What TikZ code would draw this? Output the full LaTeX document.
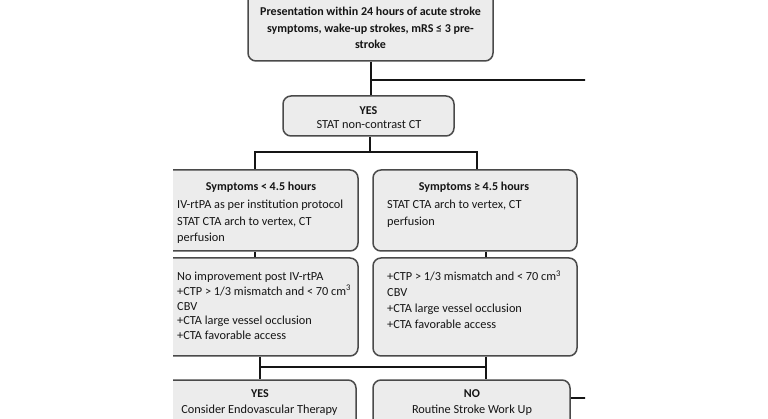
\documentclass[tikz,border=0pt]{standalone}
\usepackage{fontspec}
\setmainfont{Carlito}
\usetikzlibrary{calc}
\definecolor{boxfill}{HTML}{ECECEC}
\definecolor{boxline}{HTML}{4A4A4A}
\definecolor{wirecol}{HTML}{151515}
\definecolor{txtcol}{HTML}{151515}
\begin{document}
\begin{tikzpicture}[x=1pt,y=-1pt,
  font=\fontsize{12.3}{15}\selectfont,
  box/.style={draw=boxline, fill=boxfill, rounded corners=8pt, line width=1.5pt, inner sep=0pt},
  txt/.style={inner sep=0pt, text=txtcol},
  ttl/.style={txt, font=\fontsize{12}{15}\selectfont\bfseries, anchor=base},
  lft/.style={txt, anchor=base west},
  ctr/.style={txt, anchor=base},
  wire/.style={draw=wirecol, line width=2pt}]
\useasboundingbox (0,0) rectangle (768,419);
\begin{scope}
\clip (173,0) rectangle (585,419);
% boxes
\node[box, minimum width=245, minimum height=81] (top) at (370.5,20.5) {};
\node[box, minimum width=171, minimum height=40] (yes) at (368.5,116) {};
\node[box, minimum width=196, minimum height=81] (r1l) at (260,210.5) {};
\node[box, minimum width=204, minimum height=81] (r1r) at (475,210.5) {};
\node[box, minimum width=196, minimum height=98] (r2l) at (260,307) {};
\node[box, minimum width=204, minimum height=98] (r2r) at (475,307) {};
\node[box, minimum width=194, minimum height=64] (byes) at (259,412) {};
\node[box, minimum width=197, minimum height=64] (bno) at (471.5,412) {};
% texts
\node[ttl] (t1) at (370.5,16) {Presentation within 24 hours of acute stroke};
\node[ttl] (t2) at (370.5,32.5) {symptoms, wake-up strokes, mRS ≤ 3 pre-};
\node[ttl] (t3) at (370.5,49) {stroke};
\node[ttl] (y1) at (368.5,115) {YES};
\node[ctr] (y2) at (369,129) {STAT non-contrast CT};
\node[ttl] (a0) at (261,191) {Symptoms < 4.5 hours};
\node[lft] (a1) at (177,209) {IV-rtPA as per institution protocol};
\node[lft] (a2) at (177,225.5) {STAT CTA arch to vertex, CT};
\node[lft] (a3) at (177,242) {perfusion};
\node[ttl] (b0) at (474,191) {Symptoms ≥ 4.5 hours};
\node[lft] (b1) at (387,209) {STAT CTA arch to vertex, CT};
\node[lft] (b2) at (387,225.5) {perfusion};
\node[lft] (c1) at (177,280.5) {No improvement post IV-rtPA};
\node[lft] (c2) at (177,295.3) {+CTP > 1/3 mismatch and < 70 cm\textsuperscript{3}};
\node[lft] (c3) at (177,310.1) {CBV};
\node[lft] (c4) at (177,324.9) {+CTA large vessel occlusion};
\node[lft] (c5) at (177,339.7) {+CTA favorable access};
\node[lft] (d1) at (387,280.5) {+CTP > 1/3 mismatch and < 70 cm\textsuperscript{3}};
\node[lft] (d2) at (387,296.5) {CBV};
\node[lft] (d3) at (387,312.5) {+CTA large vessel occlusion};
\node[lft] (d4) at (387,328.5) {+CTA favorable access};
\node[ttl] (e1) at (260,397) {YES};
\node[ctr] (e2) at (259.5,413) {Consider Endovascular Therapy};
\node[ttl] (f1) at (472,397) {NO};
\node[ctr] (f2) at (472,413) {Routine Stroke Work Up};
% connectors
\coordinate (j1) at (371,80);
\coordinate (x1) at (592,80);
\draw[wire] (j1 |- top.south) -- (j1) -- (x1);
\draw[wire] (j1) -- (j1 |- yes.north);
\coordinate (j2) at (370,152);
\coordinate (j2l) at (255,152);
\coordinate (j2r) at (477,152);
\draw[wire] (j2 |- yes.south) -- (j2);
\draw[wire] (j2l |- r1l.north) -- (j2l) -- (j2r) -- (j2r |- r1r.north);
\coordinate (kl) at (255,254);
\coordinate (kr) at (486,254);
\draw[wire] (kl |- r1l.south) -- (kl |- r2l.north);
\draw[wire] (kr |- r1r.south) -- (kr |- r2r.north);
\coordinate (j3l) at (260,367);
\coordinate (j3r) at (486,367);
\draw[wire] (j3l |- r2l.south) -- (j3l |- byes.north);
\draw[wire] (j3r |- r2r.south) -- (j3r |- bno.north);
\draw[wire] (j3l) -- (j3r);
\coordinate (x2) at (592,398);
\draw[wire] (bno.east |- x2) -- (x2);
\end{scope}
\end{tikzpicture}
\end{document}
